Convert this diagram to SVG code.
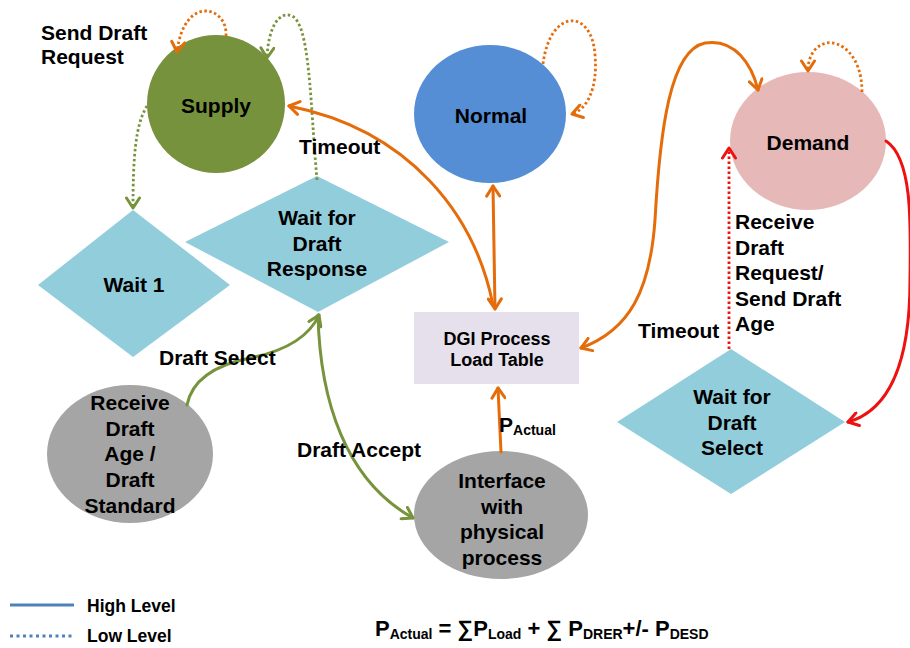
<svg xmlns="http://www.w3.org/2000/svg" width="910" height="648" viewBox="0 0 910 648">
  <defs>
    <style>
      text { font-family: "Liberation Sans", Arial, sans-serif; font-weight: bold; fill: #000; }
      .lbl { font-size: 21px; }
      .mid { text-anchor: middle; }
      .small { font-size: 18px; }
      .leg { font-size: 17.5px; }
      .sub { font-size: 14px; }
      .solid { fill: none; stroke-width: 3; stroke-linecap: round; }
      .dot { fill: none; stroke-width: 2.8; stroke-dasharray: 2.5 2.5; }
      .orange { stroke: #e46c0a; }
      .green { stroke: #77933c; }
      .red { stroke: #ee1111; }
      .diamond { fill: #92cddc; }
      .grey { fill: #a5a5a5; }
    </style>
    <marker id="ao" viewBox="-12 -8 14 16" refX="0" refY="0" markerWidth="14" markerHeight="16" markerUnits="userSpaceOnUse" orient="auto-start-reverse">
      <path d="M -10 -6.5 L 0 0 L -10 6.5" fill="none" stroke="#e46c0a" stroke-width="3" stroke-linecap="round" stroke-linejoin="round"/>
    </marker>
    <marker id="ag" viewBox="-12 -8 14 16" refX="0" refY="0" markerWidth="14" markerHeight="16" markerUnits="userSpaceOnUse" orient="auto-start-reverse">
      <path d="M -10 -6.5 L 0 0 L -10 6.5" fill="none" stroke="#77933c" stroke-width="3" stroke-linecap="round" stroke-linejoin="round"/>
    </marker>
    <marker id="ar" viewBox="-12 -8 14 16" refX="0" refY="0" markerWidth="14" markerHeight="16" markerUnits="userSpaceOnUse" orient="auto-start-reverse">
      <path d="M -10 -6.5 L 0 0 L -10 6.5" fill="none" stroke="#ee1111" stroke-width="3" stroke-linecap="round" stroke-linejoin="round"/>
    </marker>
  </defs>

  <rect width="910" height="648" fill="#ffffff"/>

  <!-- states -->
  <g id="supply">
    <circle cx="216" cy="104" r="69" fill="#76923c"/>
    <text class="lbl mid" x="216" y="113">Supply</text>
  </g>
  <g id="normal">
    <ellipse cx="490" cy="114" rx="76" ry="69" fill="#558ed5"/>
    <text class="lbl mid" x="491" y="123">Normal</text>
  </g>
  <g id="demand">
    <ellipse cx="808" cy="141" rx="78" ry="69" fill="#e6b9b8"/>
    <text class="lbl mid" x="808" y="150">Demand</text>
  </g>
  <g id="wait1">
    <polygon class="diamond" points="133,210 230,285 133,357 38,285"/>
    <text class="lbl mid" x="134" y="292">Wait 1</text>
  </g>
  <g id="wait-response">
    <polygon class="diamond" points="317,176 449,242 318,312 185,242"/>
    <text class="lbl mid" x="317" y="225">Wait for</text>
    <text class="lbl mid" x="317" y="251">Draft</text>
    <text class="lbl mid" x="317" y="276">Response</text>
  </g>
  <g id="dgi">
    <rect x="414" y="312" width="165" height="72" fill="#e5e0ec"/>
    <text class="small mid" x="497" y="345">DGI Process</text>
    <text class="small mid" x="497" y="366">Load Table</text>
  </g>
  <g id="wait-select">
    <polygon class="diamond" points="731,349 845,422 731,494 617,422"/>
    <text class="lbl mid" x="732" y="404">Wait for</text>
    <text class="lbl mid" x="732" y="430">Draft</text>
    <text class="lbl mid" x="732" y="455">Select</text>
  </g>
  <g id="receive">
    <ellipse class="grey" cx="130" cy="454" rx="83" ry="69"/>
    <text class="lbl mid" x="130" y="410">Receive</text>
    <text class="lbl mid" x="130" y="436">Draft</text>
    <text class="lbl mid" x="130" y="461">Age /</text>
    <text class="lbl mid" x="130" y="487">Draft</text>
    <text class="lbl mid" x="130" y="513">Standard</text>
  </g>
  <g id="interface">
    <ellipse class="grey" cx="501" cy="515" rx="87" ry="64"/>
    <text class="lbl mid" x="502" y="488">Interface</text>
    <text class="lbl mid" x="502" y="514">with</text>
    <text class="lbl mid" x="502" y="539">physical</text>
    <text class="lbl mid" x="502" y="565">process</text>
  </g>

  <!-- transitions -->
  <g id="connectors">
    <path class="dot orange" d="M 226 36 C 228 6, 184 -6, 177 52" marker-end="url(#ao)"/>
    <path class="dot green" d="M 317 180 C 310 100, 310 25, 292 16 C 278 10, 268 30, 267 58" marker-end="url(#ag)"/>
    <path class="dot green" d="M 147 106 C 135 125, 133 160, 133 208" marker-end="url(#ag)"/>
    <path class="solid orange" d="M 493 305 C 475 215, 410 130, 289 106" marker-end="url(#ao)"/>
    <path class="solid orange" d="M 493 186 L 495 309" marker-start="url(#ao)" marker-end="url(#ao)"/>
    <path class="dot orange" d="M 543 64 C 550 8, 592 8, 595 55 C 598 90, 586 110, 572 114" marker-end="url(#ao)"/>
    <path class="solid orange" d="M 581 348 C 630 330, 650 290, 655 220 C 660 130, 670 50, 705 43 C 735 38, 752 65, 758 90" marker-start="url(#ao)" marker-end="url(#ao)"/>
    <path class="dot orange" d="M 862 92 C 862 55, 840 40, 826 43 C 812 47, 808 60, 808 71" marker-end="url(#ao)"/>
    <path class="dot red" d="M 729 349 L 729 148" marker-end="url(#ar)"/>
    <path class="solid red" d="M 886 141 C 912 158, 911 220, 910 280 C 910 360, 890 410, 848 422" marker-end="url(#ar)"/>
    <path class="solid green" d="M 187 405 C 192 380, 215 365, 250 358 C 290 350, 310 335, 319 315" marker-end="url(#ag)"/>
    <path class="solid green" d="M 318 315 C 320 400, 345 480, 413 518" marker-end="url(#ag)"/>
    <path class="solid orange" d="M 501 452 L 498 388" marker-end="url(#ao)"/>
  </g>

  <!-- transition labels -->
  <g id="labels">
    <text class="lbl" x="41" y="40">Send Draft</text>
    <text class="lbl" x="41" y="64">Request</text>
    <text class="lbl" x="299" y="154">Timeout</text>
    <text class="lbl" x="735" y="229">Receive</text>
    <text class="lbl" x="735" y="255">Draft</text>
    <text class="lbl" x="735" y="280">Request/</text>
    <text class="lbl" x="735" y="306">Send Draft</text>
    <text class="lbl" x="735" y="331">Age</text>
    <text class="lbl" x="638" y="338">Timeout</text>
    <text class="lbl" x="159" y="365">Draft Select</text>
    <text class="lbl" x="297" y="457">Draft Accept</text>
    <text class="lbl" x="499" y="432">P<tspan class="sub" dy="3">Actual</tspan></text>
  </g>

  <!-- legend -->
  <g id="legend">
    <line x1="10" y1="605" x2="74" y2="605" stroke="#4f81bd" stroke-width="3"/>
    <text class="leg" x="87" y="612">High Level</text>
    <line x1="10" y1="636" x2="74" y2="636" stroke="#4f81bd" stroke-width="3" stroke-dasharray="3 3.5"/>
    <text class="leg" x="87" y="642">Low Level</text>
  </g>

  <!-- power balance -->
  <text id="formula" x="375" y="636" style="font-size:22px">P<tspan class="sub" dy="3">Actual</tspan><tspan dy="-3"> = ∑P</tspan><tspan class="sub" dy="3">Load</tspan><tspan dy="-3"> + ∑ P</tspan><tspan class="sub" dy="3">DRER</tspan><tspan dy="-3">+/- P</tspan><tspan class="sub" dy="3">DESD</tspan></text>
</svg>
